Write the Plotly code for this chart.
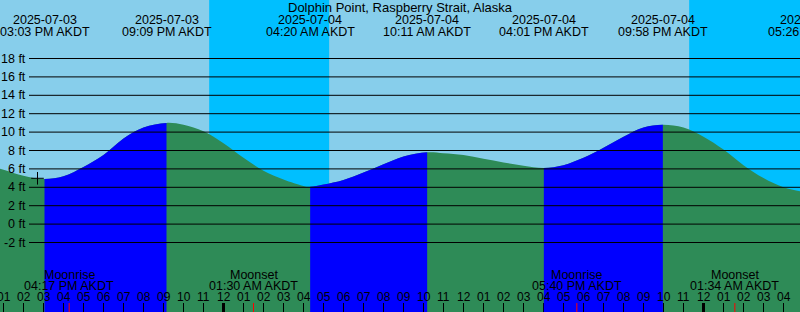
import pandas as pd
import plotly.graph_objects as go

station = "Dolphin Point, Raspberry Strait, Alaska"
tz_label = "AKDT"

# Hourly tide heights (ft)
hour_times = pd.date_range("2025-07-03 12:00", "2025-07-05 05:00", freq="h")
hour_heights = [6.5, 5.9, 5.25, 4.95, 5.2, 6.2, 7.5, 9.3, 10.5, 11.0, 10.8, 10.1,
                8.8, 7.2, 5.8, 4.85, 4.15, 4.3, 4.8, 5.6, 6.5, 7.35, 7.75, 7.7,
                7.5, 7.1, 6.7, 6.35, 6.1, 6.4, 7.2, 8.3, 9.5, 10.5, 10.8, 10.5,
                9.5, 8.1, 6.4, 5.0, 4.0, 3.5]

# High / low tides
extreme_times = ["2025-07-03 15:03", "2025-07-03 21:09", "2025-07-04 04:20",
                 "2025-07-04 10:11", "2025-07-04 16:01", "2025-07-04 21:58",
                 "2025-07-05 05:26"]
extreme_heights = [4.9, 11.0, 4.05, 7.8, 6.1, 10.8, 3.4]
extreme_kinds = ["low", "high", "low", "high", "low", "high", "low"]

# Moon events
moon_times = ["2025-07-03 16:17", "2025-07-04 01:30", "2025-07-04 17:40", "2025-07-05 01:34"]
moon_events = ["Moonrise", "Moonset", "Moonrise", "Moonset"]

# Night (sunset -> sunrise)
night_starts = ["2025-07-03 23:17", "2025-07-04 23:17"]
night_ends = ["2025-07-04 05:17", "2025-07-05 06:00"]

# Current-time marker
now_time = "2025-07-03 14:42"
now_height = 4.98

grid_levels = [-2, 0, 2, 4, 6, 8, 10, 12, 14, 16, 18]
tick_hours = pd.date_range("2025-07-03 13:00", "2025-07-05 04:00", freq="h")

# colours
DAY = "#87CEEB"
NIGHT = "#00BFFF"
FLOOD = "#0000FF"
EBB = "#2E8B57"
FONT = "Liberation Sans, Arial, sans-serif"

W, H = 800, 312
x_start = pd.Timestamp("2025-07-03 12:49:30")
x_end = x_start + pd.Timedelta(hours=40)
span = (x_end - x_start).total_seconds()
y_bot, y_top = -9.554, 24.359
BASE = -15


def ypaper(px):
    return 1 - px / H


def xfrac(t):
    return (pd.Timestamp(t) - x_start).total_seconds() / span


# combined curve: extremes plus hourly readings not too close to an extreme
ext_ts = [pd.Timestamp(t) for t in extreme_times]
pts = [(t, h) for t, h in zip(ext_ts, extreme_heights)]
for t, h in zip(hour_times, hour_heights):
    if min(abs((t - e).total_seconds()) for e in ext_ts) > 1100:
        pts.append((t, h))
pts.sort()
cx = [p[0] for p in pts]
cy = [p[1] for p in pts]

fig = go.Figure()


def add_fill(color, xa="x"):
    fig.add_trace(go.Scatter(x=[cx[0], cx[-1]], y=[BASE, BASE], mode="lines",
                             line=dict(width=0), hoverinfo="skip", xaxis=xa, yaxis="y"))
    fig.add_trace(go.Scatter(x=cx, y=cy, mode="lines", fill="tonexty", fillcolor=color,
                             line=dict(width=0, shape="spline", smoothing=1, simplify=False),
                             hoverinfo="skip", xaxis=xa, yaxis="y"))


# ebb colour everywhere, flood colour clipped to rising intervals via sub-axes
add_fill(EBB, "x")

tick_style = dict(type="date", showgrid=False, zeroline=False, showline=False,
                  tickvals=list(tick_hours), ticks="inside", ticklen=9, tickwidth=1,
                  tickcolor="black", showticklabels=False, fixedrange=True)

layout_axes = {}
n = 2
for i in range(len(ext_ts)):
    if extreme_kinds[i] != "low":
        continue
    ta = ext_ts[i]
    tb = ext_ts[i + 1] if i + 1 < len(ext_ts) else x_end
    if ta >= x_end:
        continue
    tb = min(tb, x_end)
    name = f"x{n}"
    layout_axes[f"xaxis{n}"] = dict(tick_style, domain=[xfrac(ta), xfrac(tb)],
                                    range=[ta, tb], anchor="y")
    add_fill(FLOOD, name)
    n += 1

# now marker
fig.add_trace(go.Scatter(x=[now_time], y=[now_height], mode="markers",
                         marker=dict(symbol="cross-thin", size=9,
                                     line=dict(width=1, color="black")),
                         hoverinfo="skip", xaxis=f"x{n - 1}" if False else "x", yaxis="y"))

shapes = []
for s, e in zip(night_starts, night_ends):
    shapes.append(dict(type="rect", xref="x", yref="paper", x0=s, x1=e, y0=0, y1=1,
                       fillcolor=NIGHT, line=dict(width=0), layer="below"))
for lv in grid_levels:
    shapes.append(dict(type="line", xref="paper", yref="y", x0=29 / W, x1=1, y0=lv, y1=lv,
                       line=dict(color="black", width=1)))
for t in tick_hours:
    if t.hour == 0:
        shapes.append(dict(type="line", xref="x", yref="paper", x0=t, x1=t,
                           y0=0, y1=ypaper(303), line=dict(color="black", width=3)))
for t in moon_times:
    shapes.append(dict(type="line", xref="x", yref="paper", x0=t, x1=t,
                       y0=0, y1=ypaper(303), line=dict(color="red", width=1)))

ann = []
ann.append(dict(text=station, x=0.5, xref="paper", y=ypaper(7.5), yref="paper",
                showarrow=False, xanchor="center", yanchor="middle",
                font=dict(size=13, color="black", family=FONT)))
for t in ext_ts:
    xp = xfrac(t)
    ann.append(dict(text=t.strftime("%Y-%m-%d"), x=xp, xref="paper", y=ypaper(20), yref="paper",
                    showarrow=False, xanchor="center", yanchor="middle",
                    font=dict(size=12.5, color="black", family=FONT)))
    ann.append(dict(text=t.strftime("%I:%M %p ") + tz_label, x=xp, xref="paper",
                    y=ypaper(32), yref="paper", showarrow=False, xanchor="center",
                    yanchor="middle", font=dict(size=12.5, color="black", family=FONT)))
for t, ev in zip(moon_times, moon_events):
    ts = pd.Timestamp(t)
    ann.append(dict(text=ev, x=ts, xref="x", y=ypaper(274.5), yref="paper",
                    showarrow=False, xanchor="center", yanchor="middle",
                    font=dict(size=12.5, color="black", family=FONT)))
    ann.append(dict(text=ts.strftime("%I:%M %p ") + tz_label, x=ts, xref="x",
                    y=ypaper(285.8), yref="paper", showarrow=False, xanchor="center",
                    yanchor="middle", font=dict(size=12.5, color="black", family=FONT)))
for lv in grid_levels:
    ann.append(dict(text=f"{lv} ft", x=27.5 / W, xref="paper", y=lv, yref="y",
                    showarrow=False, xanchor="right", yanchor="middle",
                    font=dict(size=12.5, color="black", family=FONT)))
for t in tick_hours:
    ann.append(dict(text=t.strftime("%I"), x=t, xref="x", y=ypaper(297), yref="paper",
                    showarrow=False, xanchor="center", yanchor="middle",
                    font=dict(size=12, color="black", family=FONT)))

fig.update_layout(
    width=W, height=H, margin=dict(l=0, r=0, t=0, b=0),
    paper_bgcolor=DAY, plot_bgcolor="rgba(0,0,0,0)", showlegend=False,
    shapes=shapes, annotations=ann,
    xaxis=dict(tick_style, range=[x_start, x_end], domain=[0, 1]),
    yaxis=dict(range=[y_bot, y_top], showgrid=False, zeroline=False, showline=False,
               showticklabels=False, fixedrange=True, anchor="x"),
    **layout_axes,
)

fig.write_html("out.html")
